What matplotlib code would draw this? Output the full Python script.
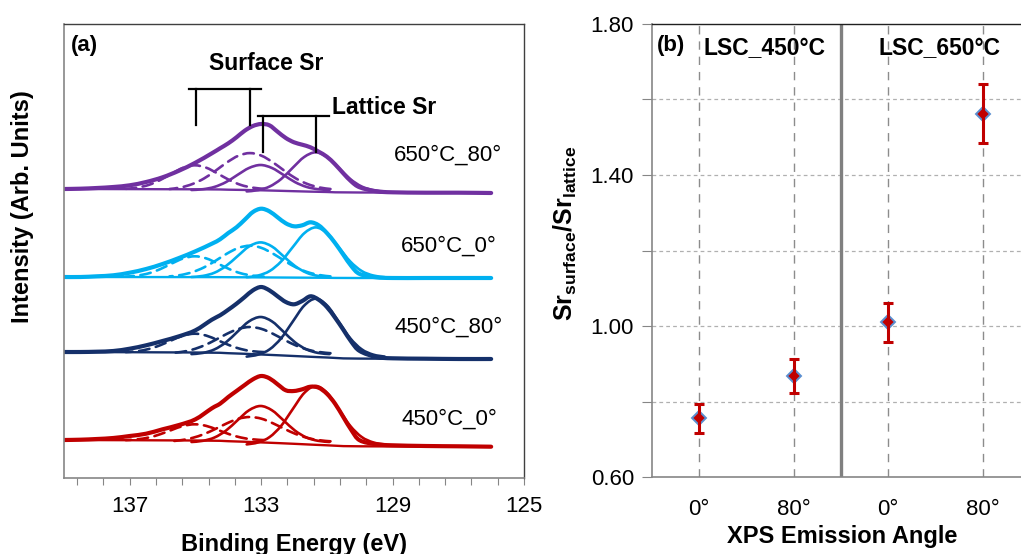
import numpy as np
import matplotlib
matplotlib.use("Agg")
import matplotlib.pyplot as plt
from matplotlib.path import Path
from matplotlib.patches import PathPatch

plt.rcParams['font.family'] = ['Liberation Sans', 'DejaVu Sans']
plt.rcParams['mathtext.fontset'] = 'custom'
plt.rcParams['mathtext.rm'] = 'Liberation Sans'
plt.rcParams['mathtext.bf'] = 'Liberation Sans:bold'

# ---------------- panel (a): Sr 3d spectra ----------------
samples = ['650°C_80°', '650°C_0°', '450°C_80°', '450°C_0°']
colors = ['#7030A0', '#00B0F0', '#15306A', '#C00000']
offsets = [289, 201, 126, 38]

# binding energies for the measured envelope
be_env = [139, 138.5, 138, 137.5, 137, 136.5, 136, 135.5, 135, 134.5, 134.25, 134,
          133.75, 133.5, 133.25, 133, 132.75, 132.5, 132.25, 132, 131.75, 131.5,
          131.25, 131, 130.75, 130.5, 130.25, 130, 129.5, 129, 128, 127, 126]
env_650_80 = [0, 0.3, 1.0, 2.0, 3.7, 7.0, 11.7, 18.3, 26.3, 35.7, 40.7, 45.7, 51.7, 58.3,
              63.0, 65.0, 63.7, 57.3, 51.0, 46.7, 44.3, 41.7, 37.3, 32.3, 24.7, 15.7, 7.3,
              1.7, -2.3, -3.3, -3.7, -3.7, -4.0]
env_650_0 = [0, 0, 0.7, 1.7, 4.3, 8.0, 13.0, 19.0, 25.7, 33.3, 37.7, 44.0, 49.7, 57.3,
             65.0, 68.3, 65.7, 59.7, 53.7, 50.7, 51.7, 54.7, 51.7, 44.0, 34.0, 22.3, 10.7,
             3.0, -0.3, -1.0, -1.0, -1.0, -1.0]
env_450_80 = [0, 0, 0.3, 1.0, 3.3, 6.7, 11.0, 15.7, 21.7, 32.3, 36.7, 42.3, 48.3, 55.0,
              61.7, 65.0, 61.7, 55.7, 50.0, 47.7, 51.0, 55.7, 52.3, 45.0, 34.3, 22.3, 10.0,
              1.0, -5.0, -6.3, -6.7, -7.0, -7.0]
env_450_0 = [0, 0.3, 1.0, 2.0, 4.0, 6.3, 10.7, 15.0, 20.7, 31.7, 36.3, 43.0, 49.0, 55.0,
             60.7, 64.0, 61.7, 55.7, 49.7, 49.0, 50.7, 53.3, 52.3, 46.3, 36.3, 23.0, 9.7,
             -0.3, -4.3, -5.3, -6.0, -6.3, -6.7]

# background
be_bg = [139, 135, 134, 133, 132, 131, 130, 126]
bg_650_80 = [0, -0.3, -0.7, -1.3, -2.2, -3.0, -3.5, -3.7]
bg_650_0 = [0, -0.1, -0.2, -0.4, -0.6, -0.8, -1.0, -1.0]
bg_450_80 = [0, -0.5, -1.2, -2.5, -4.0, -5.5, -6.6, -7.0]
bg_450_0 = [0, -0.5, -1.2, -2.4, -3.8, -5.3, -6.3, -6.7]

# fitted components (surface = dashed, lattice = solid)
be_s1 = [132.92, 133.27, 133.62, 133.97, 134.32, 134.67, 135.02, 135.37, 135.72,
         136.07, 136.42, 136.77, 137.12]
be_s2 = [130.89, 131.24, 131.59, 131.94, 132.29, 132.64, 132.99, 133.34, 133.69,
         134.04, 134.39, 134.74, 135.09, 135.44, 135.79]
be_l1 = [130.92, 131.27, 131.62, 131.97, 132.32, 132.67, 133.02, 133.37, 133.72,
         134.07, 134.42, 134.77, 135.12]
be_l2 = [129.24, 129.59, 129.94, 130.29, 130.64, 130.99, 131.34, 131.69, 132.04,
         132.39, 132.74, 133.09, 133.44]

s1_650_80 = [0.2, 1.4, 4.1, 9.0, 15.4, 21.3, 23.7, 21.3, 15.4, 9.0, 4.1, 1.4, 0.2]
s2_650_80 = [0.0, 1.6, 5.0, 10.5, 18.2, 26.6, 33.3, 35.9, 33.3, 26.6, 18.2, 10.5, 5.0, 1.6, 0.0]
l1_650_80 = [-1.0, -0.2, 2.1, 6.9, 14.1, 21.0, 24.0, 21.0, 14.1, 6.9, 2.1, -0.2, -1.0]
l2_650_80 = [-2.4, -1.1, 2.5, 10.0, 21.2, 32.0, 36.7, 32.0, 21.2, 10.0, 2.5, -1.1, -2.4]

s1_650_0 = [0.4, 1.4, 3.7, 7.9, 13.5, 18.6, 20.7, 18.6, 13.5, 7.9, 3.7, 1.4, 0.4]
s2_650_0 = [0.6, 2.0, 4.9, 9.6, 16.2, 23.4, 29.1, 31.3, 29.1, 23.4, 16.2, 9.6, 4.9, 2.0, 0.6]
l1_650_0 = [0.0, 1.1, 4.3, 11.0, 20.8, 30.5, 34.6, 30.5, 20.8, 11.0, 4.3, 1.1, 0.0]
l2_650_0 = [-0.2, 1.5, 6.0, 15.6, 29.8, 43.7, 49.6, 43.7, 29.8, 15.6, 6.0, 1.5, -0.2]

s1_450_80 = [-0.1, 0.8, 3.0, 6.8, 11.8, 16.4, 18.3, 16.4, 11.8, 6.8, 3.0, 0.8, -0.1]
s2_450_80 = [-1.2, 0.0, 2.4, 6.5, 12.1, 18.2, 23.1, 25.0, 23.1, 18.2, 12.1, 6.5, 2.4, 0.0, -1.2]
l1_450_80 = [-2.1, -0.9, 2.6, 9.7, 20.3, 30.6, 35.0, 30.6, 20.3, 9.7, 2.6, -0.9, -2.1]
l2_450_80 = [-4.6, -2.6, 2.7, 13.8, 30.3, 46.4, 53.3, 46.4, 30.3, 13.8, 2.7, -2.6, -4.6]

s1_450_0 = [-0.1, 0.7, 2.5, 5.8, 10.1, 14.1, 15.7, 14.1, 10.1, 5.8, 2.5, 0.7, -0.1]
s2_450_0 = [-1.3, -0.2, 2.1, 5.9, 11.1, 16.7, 21.3, 23.0, 21.3, 16.7, 11.1, 5.9, 2.1, -0.2, -1.3]
l1_450_0 = [-2.0, -0.8, 2.5, 9.4, 19.7, 29.7, 34.0, 29.7, 19.7, 9.4, 2.5, -0.8, -2.0]
l2_450_0 = [-4.4, -2.4, 3.0, 14.2, 30.8, 47.0, 54.0, 47.0, 30.8, 14.2, 3.0, -2.4, -4.4]

envs = [env_650_80, env_650_0, env_450_80, env_450_0]
bgs = [bg_650_80, bg_650_0, bg_450_80, bg_450_0]
s1s = [s1_650_80, s1_650_0, s1_450_80, s1_450_0]
s2s = [s2_650_80, s2_650_0, s2_450_80, s2_450_0]
l1s = [l1_650_80, l1_650_0, l1_450_80, l1_450_0]
l2s = [l2_650_80, l2_650_0, l2_450_80, l2_450_0]
label_pos = [(128.95, 323), (128.75, 232), (128.95, 151), (128.72, 59)]

surface_peaks = [134.98, 133.34]
lattice_peaks = [132.94, 131.33]

# ---------------- panel (b): Sr ratio ----------------
angle_labels = ['0°', '80°', '0°', '80°']
ratio = [0.755, 0.868, 1.010, 1.562]
ratio_err = [0.038, 0.045, 0.052, 0.078]


def smooth_line(ax, x, y, **kw):
    # Excel-style smoothed line: cubic Bezier through every data point
    p = np.column_stack([x, y]).astype(float)
    n = len(p)
    verts = [p[0]]
    codes = [Path.MOVETO]
    for i in range(n - 1):
        p0 = p[i - 1] if i > 0 else p[i]
        p3 = p[i + 2] if i + 2 < n else p[i + 1]
        c1 = p[i] + (p[i + 1] - p0) / 6.0
        c2 = p[i + 1] - (p3 - p[i]) / 6.0
        verts += [c1, c2, p[i + 1]]
        codes += [Path.CURVE4] * 3
    ax.add_patch(PathPatch(Path(verts, codes), fill=False, capstyle='round',
                           joinstyle='round', **kw))


fig = plt.figure(figsize=(10.21, 5.54), dpi=100)

ax = fig.add_axes([64 / 1021, 76 / 554, 460 / 1021, 454 / 554])
dash = (0, (4, 2.5))
for i in range(4):
    c, off = colors[i], offsets[i]
    smooth_line(ax, be_bg, np.array(bgs[i]) + off, color=c, lw=1.7)
    smooth_line(ax, be_s1, np.array(s1s[i]) + off, color=c, lw=1.9, linestyle=dash)
    smooth_line(ax, be_s2, np.array(s2s[i]) + off, color=c, lw=1.9, linestyle=dash)
    smooth_line(ax, be_l1, np.array(l1s[i]) + off, color=c, lw=1.9)
    smooth_line(ax, be_l2, np.array(l2s[i]) + off, color=c, lw=1.9)
    smooth_line(ax, be_env, np.array(envs[i]) + off, color=c, lw=3.0)
    ax.text(label_pos[i][0], label_pos[i][1], samples[i], fontsize=16,
            ha='left', va='center')

# peak brackets
ax.plot([135.2, 133.0], [389, 389], color='k', lw=1.6)
for p in surface_peaks:
    ax.plot([p, p], [389, 353], color='k', lw=1.6)
ax.plot([133.1, 130.94], [362, 362], color='k', lw=1.6)
for p in lattice_peaks:
    ax.plot([p, p], [362, 326], color='k', lw=1.6)
ax.text(132.85, 415, 'Surface Sr', fontsize=16.5, fontweight='bold', ha='center', va='center')
ax.text(130.84, 371, 'Lattice Sr', fontsize=16.5, fontweight='bold', ha='left', va='center')
ax.text(138.8, 433, '(a)', fontsize=16, fontweight='bold', ha='left', va='center')

ax.set_xlim(139, 125)
ax.set_ylim(0, 454)
ticks = np.arange(125, 139, 0.8)
ax.set_xticks(ticks)
ax.set_xticklabels(['%d' % round(t) if i % 5 == 0 else '' for i, t in enumerate(ticks)],
                   fontsize=16)
ax.set_yticks([])
ax.tick_params(axis='x', direction='out', length=5, color='#868686', pad=8)
for s in ['left', 'bottom']:
    ax.spines[s].set_color('#868686')
    ax.spines[s].set_linewidth(1.2)
for s in ['top', 'right']:
    ax.spines[s].set_color('#404040')
    ax.spines[s].set_linewidth(1.0)

fig.text(294 / 1021, (554 - 544) / 554, 'Binding Energy (eV)', fontsize=17,
         fontweight='bold', ha='center', va='center')
fig.text(23 / 1021, (554 - 207) / 554, 'Intensity (Arb. Units)', fontsize=17,
         fontweight='bold', ha='center', va='center', rotation=90)

# ---------------- right panel ----------------
bx = fig.add_axes([652 / 1021, 77 / 554, 378 / 1021, 453 / 554])
xpos = np.arange(1, len(ratio) + 1)
bx.set_xlim(0.5, 4.5)
bx.set_ylim(0.6, 1.8)
yt = np.arange(0.6, 1.81, 0.2)
bx.set_yticks(yt)
bx.set_yticklabels(['%.2f' % v if i % 2 == 0 else '' for i, v in enumerate(yt)], fontsize=16)
bx.tick_params(axis='y', direction='out', length=7, color='#868686', pad=6)
bx.set_xticks(xpos)
bx.set_xticklabels(angle_labels, fontsize=16)
bx.tick_params(axis='x', length=0, pad=16)
for v in yt[1:-1]:
    bx.axhline(v, color='#B0B0B0', lw=0.9, ls=(0, (3, 2.5)), zorder=1)
for xv in xpos:
    bx.axvline(xv, color='#8C8C8C', lw=1.0, ls=(0, (6, 5)), zorder=1)
bx.axvline(2.5, color='#808080', lw=2.4, zorder=2)

bx.plot(xpos, ratio, 'D', ms=7, mfc='#C00000', mec='#5B8FD0', mew=1.4, zorder=3)
bx.errorbar(xpos, ratio, yerr=ratio_err, fmt='none', ecolor='#C00000', elinewidth=2.2,
            capsize=3.5, capthick=2.2, zorder=4)

bx.spines['top'].set_color('#202020')
bx.spines['top'].set_linewidth(1.0)
for s in ['left', 'bottom']:
    bx.spines[s].set_color('#868686')
    bx.spines[s].set_linewidth(1.2)
bx.spines['right'].set_visible(False)

bx.text(0.555, 1.744, '(b)', fontsize=16, fontweight='bold', ha='left', va='center')
bx.text(1.69, 1.736, 'LSC_450°C', fontsize=16.5, fontweight='bold', ha='center', va='center')
bx.text(3.545, 1.736, 'LSC_650°C', fontsize=16.5, fontweight='bold', ha='center', va='center')

fig.text(842 / 1021, (554 - 537) / 554, 'XPS Emission Angle', fontsize=17,
         fontweight='bold', ha='center', va='center')
fig.text(565 / 1021, (554 - 233) / 554,
         r'$\mathbf{Sr}_{\mathbf{surface}}\mathbf{/Sr}_{\mathbf{lattice}}$',
         fontsize=18, ha='center', va='center', rotation=90)

fig.savefig('out.png', dpi=100)
